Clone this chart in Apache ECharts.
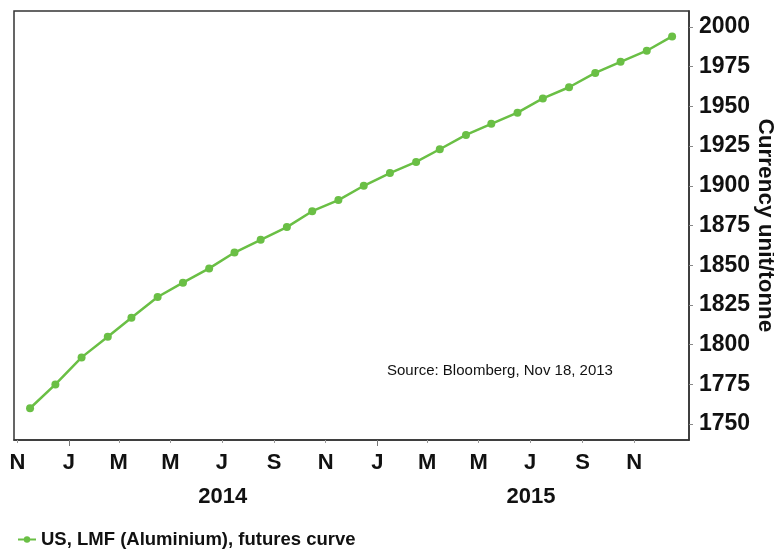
<!DOCTYPE html>
<html>
<head>
<meta charset="utf-8">
<script src="https://cdn.jsdelivr.net/npm/echarts@6/dist/echarts.min.js"></script>
<style>
  html, body { margin: 0; padding: 0; background: #fff; }
  #chart { width: 774px; height: 549px; }
</style>
</head>
<body>
<div id="chart"></div>
<script>
// Aluminium futures curve (US, LMF), one settlement per contract month
const contractDates = [
  '2013-11-16', '2013-12-16', '2014-01-16', '2014-02-16', '2014-03-16', '2014-04-16',
  '2014-05-16', '2014-06-16', '2014-07-16', '2014-08-16', '2014-09-16', '2014-10-16',
  '2014-11-16', '2014-12-16', '2015-01-16', '2015-02-16', '2015-03-16', '2015-04-16',
  '2015-05-16', '2015-06-16', '2015-07-16', '2015-08-16', '2015-09-16', '2015-10-16',
  '2015-11-16', '2015-12-16'
];
const prices = [
  1760, 1775, 1792, 1805, 1817, 1830, 1839, 1848, 1858, 1866, 1874, 1884, 1891,
  1900, 1908, 1915, 1923, 1932, 1939, 1946, 1955, 1962, 1971, 1978, 1985, 1994
];

// Month tick marks and their letters
const monthTickDates = [
  '2013-11-01', '2014-01-01', '2014-03-01', '2014-05-01', '2014-07-01', '2014-09-01',
  '2014-11-01', '2015-01-01', '2015-03-01', '2015-05-01', '2015-07-01', '2015-09-01',
  '2015-11-01'
];
const monthTickLabels = ['N', 'J', 'M', 'M', 'J', 'S', 'N', 'J', 'M', 'M', 'J', 'S', 'N'];

// Year boundaries and year captions (centred in each year)
const yearBoundaryDates = ['2014-01-01', '2015-01-01'];
const yearLabelDates = ['2014-07-02', '2015-07-02'];
const yearLabels = ['2014', '2015'];

// Price axis
const priceMin = 1740;
const priceMax = 2010;
const priceTicks = [1750, 1775, 1800, 1825, 1850, 1875, 1900, 1925, 1950, 1975, 2000];

const axisStart = '2013-10-28';
const axisEnd = '2016-01-05';

const seriesName = 'US, LMF (Aluminium), futures curve';
const sourceNote = 'Source: Bloomberg, Nov 18, 2013';
const priceUnit = 'Currency unit/tonne';

// dates are placed on a linear millisecond scale
const ts = s => new Date(s + 'T00:00:00Z').getTime();

const monthLabelByTime = new Map(monthTickDates.map((d, i) => [ts(d), monthTickLabels[i]]));
const yearLabelByTime = new Map(yearLabelDates.map((d, i) => [ts(d), yearLabels[i]]));

const GREEN = '#6abf45';
const INK = '#111';
const SANS = "'Liberation Sans', Arial, sans-serif";

const chart = echarts.init(document.getElementById('chart'), null, { renderer: 'canvas' });

chart.setOption({
  animation: false,
  backgroundColor: '#fff',
  grid: {
    left: 14, top: 11, width: 675, height: 429,
    outerBoundsMode: 'none',
    containLabel: false,
    show: true, borderColor: '#333', borderWidth: 1.5, backgroundColor: 'transparent'
  },
  xAxis: [
    {
      type: 'value',
      min: ts(axisStart),
      max: ts(axisEnd),
      axisLine: { show: true, lineStyle: { color: '#333', width: 1.5 } },
      axisTick: {
        show: true, length: 3, customValues: monthTickDates.map(ts),
        lineStyle: { color: '#999', width: 1 }
      },
      axisLabel: {
        customValues: monthTickDates.map(ts),
        formatter: v => monthLabelByTime.get(v) || '',
        margin: 12,
        color: INK, fontFamily: SANS, fontWeight: 'bold', fontSize: 22
      },
      splitLine: { show: false }
    },
    {
      type: 'value',
      position: 'bottom',
      min: ts(axisStart),
      max: ts(axisEnd),
      axisLine: { show: false },
      axisTick: {
        show: true, length: 6, customValues: yearBoundaryDates.map(ts),
        lineStyle: { color: '#777', width: 1 }
      },
      axisLabel: {
        customValues: yearLabelDates.map(ts),
        formatter: v => yearLabelByTime.get(v) || '',
        margin: 46,
        color: INK, fontFamily: SANS, fontWeight: 'bold', fontSize: 22
      },
      splitLine: { show: false }
    }
  ],
  yAxis: {
    type: 'value',
    position: 'right',
    min: priceMin,
    max: priceMax,
    name: priceUnit,
    nameLocation: 'middle',
    nameRotate: -90,
    nameGap: 65,
    nameMoveOverlap: false,
    nameTextStyle: { color: INK, fontFamily: SANS, fontWeight: 'bold', fontSize: 22.5 },
    axisLine: { show: true, lineStyle: { color: '#333', width: 1.5 } },
    axisTick: {
      show: true, length: 4, customValues: priceTicks,
      lineStyle: { color: '#888', width: 1 }
    },
    axisLabel: {
      customValues: priceTicks,
      formatter: v => String(v),
      margin: 10,
      color: INK, fontFamily: SANS, fontWeight: 'bold', fontSize: 23
    },
    splitLine: { show: false }
  },
  legend: {
    left: 12, top: 525,
    itemWidth: 18, itemHeight: 8, itemGap: 10,
    textStyle: { color: INK, fontFamily: SANS, fontWeight: 'bold', fontSize: 18.5 },
    data: [seriesName]
  },
  graphic: [{
    type: 'text',
    left: 387, top: 363,
    style: { text: sourceNote, fill: INK, font: "15px 'Liberation Sans', Arial, sans-serif" }
  }],
  series: [{
    name: seriesName,
    type: 'line',
    xAxisIndex: 0,
    data: contractDates.map((d, i) => [ts(d), prices[i]]),
    symbol: 'circle',
    symbolSize: 8,
    lineStyle: { color: GREEN, width: 2.5 },
    itemStyle: { color: GREEN }
  }]
});
</script>
</body>
</html>
